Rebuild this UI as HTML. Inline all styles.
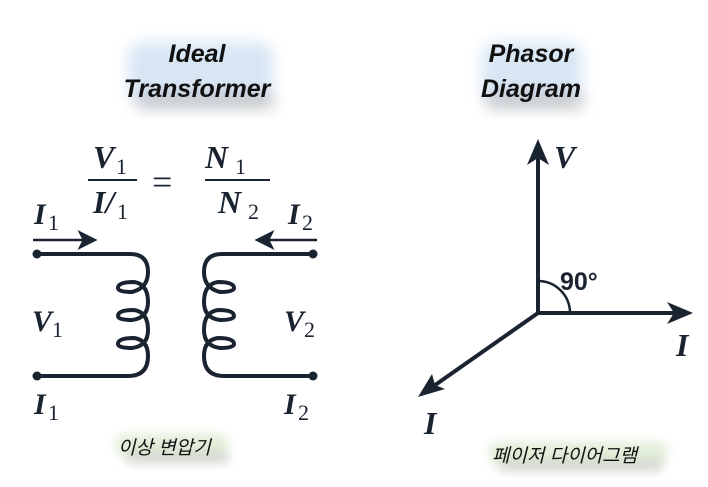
<!DOCTYPE html>
<html><head><meta charset="utf-8"><style>
body{margin:0;background:#fff;}
svg{display:block}
.t{font-family:"Liberation Sans","DejaVu Sans",sans-serif;font-weight:bold;font-style:italic;font-size:25px;fill:#111}
.m{font-family:"Liberation Serif",serif;font-style:italic;font-weight:bold;fill:#1a2330}
.s{font-family:"Liberation Serif",serif;font-weight:normal;font-style:normal;fill:#1a2330}
.k{font-family:"Liberation Sans","Noto Sans CJK KR",sans-serif;font-style:italic;font-size:19px;fill:#111}
</style></head><body>
<svg width="708" height="487" viewBox="0 0 708 487">
<defs>
<filter id="b" x="-30%" y="-50%" width="160%" height="200%"><feGaussianBlur stdDeviation="7"/></filter>
<filter id="b2" x="-30%" y="-50%" width="160%" height="200%"><feGaussianBlur stdDeviation="5"/></filter>
<marker id="ah" markerWidth="8" markerHeight="8" refX="5" refY="4" orient="auto" markerUnits="strokeWidth"><path d="M0,0 L8,4 L0,8 L2,4z" fill="#1a2330"/></marker>
</defs>
<rect width="708" height="487" fill="#fff"/>
<rect x="128" y="42" width="145" height="60" rx="14" fill="#d8e6f4" filter="url(#b)"/>
<rect x="135" y="92" width="140" height="18" rx="8" fill="#888" opacity=".35" filter="url(#b)"/>
<rect x="482" y="42" width="100" height="60" rx="14" fill="#d8e6f4" filter="url(#b)"/>
<rect x="485" y="92" width="100" height="18" rx="8" fill="#888" opacity=".35" filter="url(#b)"/>
<rect x="116" y="434" width="112" height="22" rx="8" fill="#e2eed8" filter="url(#b2)"/>
<rect x="125" y="452" width="105" height="12" rx="6" fill="#999" opacity=".35" filter="url(#b2)"/>
<rect x="489" y="442" width="178" height="22" rx="8" fill="#e2eed8" filter="url(#b2)"/>
<rect x="498" y="460" width="165" height="12" rx="6" fill="#999" opacity=".35" filter="url(#b2)"/>
<text class="t" x="197" y="62" text-anchor="middle">Ideal</text>
<text class="t" x="197" y="97" text-anchor="middle">Transformer</text>
<text class="t" x="531" y="62" text-anchor="middle">Phasor</text>
<text class="t" x="531" y="97" text-anchor="middle">Diagram</text>
<text class="k" x="118" y="454">이상 변압기</text>
<text class="k" x="492" y="462">페이저 다이어그램</text>
<g class="m">
<text x="93" y="168" font-size="32">V</text><text class="s" x="116" y="174" font-size="22">1</text>
<line x1="88" y1="180" x2="137" y2="180" stroke="#1a2330" stroke-width="2"/>
<text x="93" y="213" font-size="32">I/</text><text class="s" x="117" y="219" font-size="22">1</text>
<text class="s" x="152" y="194" font-size="36">=</text>
<text x="205" y="168" font-size="32">N</text><text class="s" x="235" y="174" font-size="22">1</text>
<line x1="205" y1="180" x2="270" y2="180" stroke="#1a2330" stroke-width="2"/>
<text x="218" y="213" font-size="32">N</text><text class="s" x="248" y="219" font-size="22">2</text>
<text x="34" y="224" font-size="30">I</text><text class="s" x="48" y="230" font-size="22">1</text>
<text x="288" y="224" font-size="30">I</text><text class="s" x="302" y="230" font-size="22">2</text>
<text x="32" y="331" font-size="30">V</text><text class="s" x="52" y="337" font-size="22">1</text>
<text x="284" y="331" font-size="30">V</text><text class="s" x="304" y="337" font-size="22">2</text>
<text x="34" y="414" font-size="30">I</text><text class="s" x="48" y="420" font-size="22">1</text>
<text x="284" y="414" font-size="30">I</text><text class="s" x="298" y="420" font-size="22">2</text>
<text x="554" y="168" font-size="32">V</text>
<text x="676" y="356" font-size="32">I</text>
<text x="424" y="434" font-size="32">I</text>
</g>
<text x="560" y="290" font-family="Liberation Sans,sans-serif" font-weight="bold" font-size="25" fill="#1a2330">90°</text>
<line x1="33" y1="240" x2="90" y2="240" stroke="#1a2330" stroke-width="2.5" marker-end="url(#ah)"/>
<line x1="317" y1="240" x2="262" y2="240" stroke="#1a2330" stroke-width="2.5" marker-end="url(#ah)"/>
<g fill="none" stroke="#1a2330" stroke-width="4" stroke-linecap="round">
<path d="M37,254 H130 Q148,254 148,272 Q148,288 132,292 Q118,292 118,288 Q118,282 134,282 Q148,284 148,302 Q148,318 132,320 Q118,320 118,316 Q118,310 134,310 Q148,312 148,330 Q148,346 132,348 Q118,348 118,344 Q118,338 134,338 Q148,340 148,356 Q148,376 128,376 H37"/>
<path d="M313,254 H222 Q204,254 204,272 Q204,288 220,292 Q234,292 234,288 Q234,282 218,282 Q204,284 204,302 Q204,318 220,320 Q234,320 234,316 Q234,310 218,310 Q204,312 204,330 Q204,346 220,348 Q234,348 234,344 Q234,338 218,338 Q204,340 204,356 Q204,376 224,376 H313"/>
</g>
<g fill="#1a2330"><circle cx="37" cy="254" r="4.5"/><circle cx="37" cy="376" r="4.5"/><circle cx="313" cy="254" r="4.5"/><circle cx="313" cy="376" r="4.5"/></g>
<g stroke="#1a2330" stroke-width="4" fill="none">
<line x1="538" y1="313" x2="538" y2="150"/>
<line x1="538" y1="313" x2="682" y2="313"/>
<line x1="538" y1="313" x2="428" y2="390"/>
<path d="M538,281 A32,32 0 0 1 570,313" stroke-width="2.5"/>
</g>
<g fill="#1a2330">
<path d="M538,139 L527,165 L538,158 L549,165z"/>
<path d="M693,313 L667,302 L674,313 L667,324z"/>
<path d="M418,397 L445,389 L435,385 L432,374z"/>
</g>
</svg>
</body></html>
